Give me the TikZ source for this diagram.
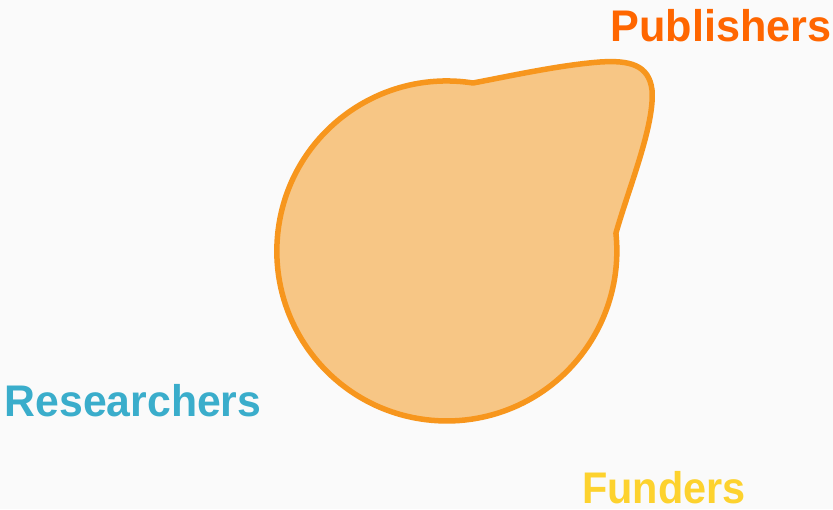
\documentclass[tikz,border=0pt]{standalone}
\usepackage{fontspec}
\setmainfont{Liberation Sans}
\definecolor{bgcol}{HTML}{FAFAFA}
\definecolor{blobline}{HTML}{F7961D}
\definecolor{blobfill}{HTML}{F7C685}
\definecolor{pubcol}{HTML}{FF6600}
\definecolor{rescol}{HTML}{3AADCB}
\definecolor{fundcol}{HTML}{FDD22E}
\begin{document}
\begin{tikzpicture}[x=1pt,y=1pt,
  label/.style={inner sep=0pt, anchor=base west, font=\fontsize{44.3}{50}\selectfont\bfseries},
  blob/.style={draw=blobline, fill=blobfill, line width=5.5pt, line join=round}]
  % canvas
  \fill[bgcol] (0,0) rectangle (833,-509);
  \useasboundingbox (0,0) rectangle (833,-509);
  % the drop-shaped region: a circle pulled out into a corner at the upper right
  \draw[blob] (473,-83) arc[start angle=81.15, end angle=366, radius=170]
    .. controls (628,-190) and (655,-125) .. (652,-90)
    .. controls (649,-65) and (630,-60) .. (600,-62)
    .. controls (560,-65) and (510,-76) .. (473,-83) -- cycle;
  % group labels
  \node[label, text=pubcol] (publishers) at (610.5,-41) {\scalebox{0.975}[1]{Publishers}};
  \node[label, text=rescol] (researchers) at (4.5,-416.7) {\scalebox{0.965}[1]{Researchers}};
  \node[label, text=fundcol] (funders) at (582,-503) {\scalebox{0.935}[1]{Funders}};
\end{tikzpicture}
\end{document}
